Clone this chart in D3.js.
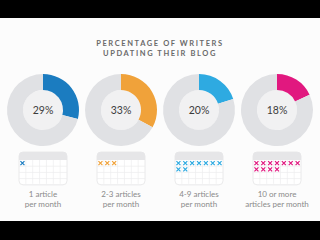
<!DOCTYPE html>
<html>
<head>
<meta charset="utf-8">
<script src="https://cdn.jsdelivr.net/npm/d3@7"></script>
<style>
  html, body { margin: 0; padding: 0; background: #000; }
  #chart { width: 320px; height: 240px; }
</style>
</head>
<body>
<div id="chart"></div>
<script>
// chart values
const titleLines = ["PERCENTAGE OF WRITERS", "UPDATING THEIR BLOG"];
const categories = ["1 article per month", "2-3 articles per month", "4-9 articles per month", "10 or more articles per month"];
const labelLines = [["1 article", "per month"], ["2-3 articles", "per month"], ["4-9 articles", "per month"], ["10 or more", "articles per month"]];
const percents = [29, 33, 20, 18];
const markCounts = [1, 3, 9, 11];
const colors = ["#1b7cc0", "#f0a23a", "#2eaae1", "#e1187f"];

const W = 320, H = 240;
const svg = d3.select('#chart').append('svg').attr('width', W).attr('height', H);

// white panel between the black bars
svg.append('rect').attr('x', 0).attr('y', 18).attr('width', W).attr('height', 203).attr('fill', '#fcfcfc');

// title
svg.append('g').selectAll('text').data(titleLines).join('text')
  .attr('x', 160).attr('y', (d, i) => 46 + i * 10)
  .attr('text-anchor', 'middle')
  .attr('font-family', 'Lato, "DejaVu Sans", sans-serif')
  .attr('font-weight', 'bold').attr('font-size', 7.5)
  .attr('letter-spacing', 1.6)
  .attr('fill', '#6a6a6a')
  .text(d => d);

const x = d3.scaleBand().domain(categories).range([4, 316]);
const cx = d => x(d) + x.bandwidth() / 2;

const pie = d3.pie().sort(null).value(d => d);
const arc = d3.arc().innerRadius(20).outerRadius(36);

const groups = svg.append('g').selectAll('g').data(categories).join('g');

// donuts
groups.each(function(c, i) {
  const g = d3.select(this).append('g').attr('transform', `translate(${cx(c)},110)`);
  g.append('circle').attr('r', 20).attr('fill', '#f1f1f2');
  g.selectAll('path').data(pie([percents[i], 100 - percents[i]])).join('path')
    .attr('d', arc)
    .attr('fill', (d, j) => j === 0 ? colors[i] : '#e0e1e4');
  g.append('text').attr('y', 3.5).attr('text-anchor', 'middle')
    .attr('font-family', 'Lato, "DejaVu Sans", sans-serif')
    .attr('font-size', 10.5).attr('fill', '#3c3c3c')
    .text(percents[i] + '%');
});

// calendars
const cols = d3.range(7), rows = d3.range(4);
const calW = 48, calTop = 152, headH = 8, rowH = 6.2;
groups.each(function(c, i) {
  const left = cx(c) - calW / 2;
  const g = d3.select(this).append('g').attr('transform', `translate(${left},${calTop})`);
  const cxs = d3.scaleBand().domain(cols).range([0, calW]);
  const rys = d3.scaleBand().domain(rows).range([headH, headH + rows.length * rowH]);
  const calH = headH + rows.length * rowH;
  g.append('rect').attr('width', calW).attr('height', calH).attr('rx', 4)
    .attr('fill', '#fff').attr('stroke', '#e4e4e6').attr('stroke-width', 0.8);
  g.append('path').attr('d', `M0,${headH} V4 Q0,0 4,0 H${calW - 4} Q${calW},0 ${calW},4 V${headH} Z`).attr('fill', '#e6e6e8');
  g.selectAll('.v').data(cols.slice(1)).join('line')
    .attr('x1', d => cxs(d)).attr('x2', d => cxs(d))
    .attr('y1', headH).attr('y2', calH - 1)
    .attr('stroke', '#ececee').attr('stroke-width', 0.7);
  g.selectAll('.h').data(rows.slice(1)).join('line')
    .attr('x1', 0).attr('x2', calW)
    .attr('y1', d => rys(d)).attr('y2', d => rys(d))
    .attr('stroke', '#ececee').attr('stroke-width', 0.7);
  const marks = d3.range(markCounts[i]);
  g.selectAll('.m').data(marks).join('path')
    .attr('d', k => {
      const mx = cxs(k % 7) + cxs.bandwidth() / 2, my = rys(Math.floor(k / 7)) + rowH / 2;
      const s = 2;
      return `M${mx - s},${my - s}L${mx + s},${my + s}M${mx + s},${my - s}L${mx - s},${my + s}`;
    })
    .attr('stroke', colors[i]).attr('stroke-width', 1.2).attr('fill', 'none');
});

// labels
groups.each(function(c, i) {
  d3.select(this).selectAll('text.lab').data(labelLines[i]).join('text')
    .attr('class', 'lab')
    .attr('x', cx(c)).attr('y', (d, j) => 197 + j * 9.5)
    .attr('text-anchor', 'middle')
    .attr('font-family', 'Lato, "DejaVu Sans", sans-serif')
    .attr('font-size', 8)
    .attr('fill', '#8a8a8a')
    .text(d => d);
});
</script>
</body>
</html>
